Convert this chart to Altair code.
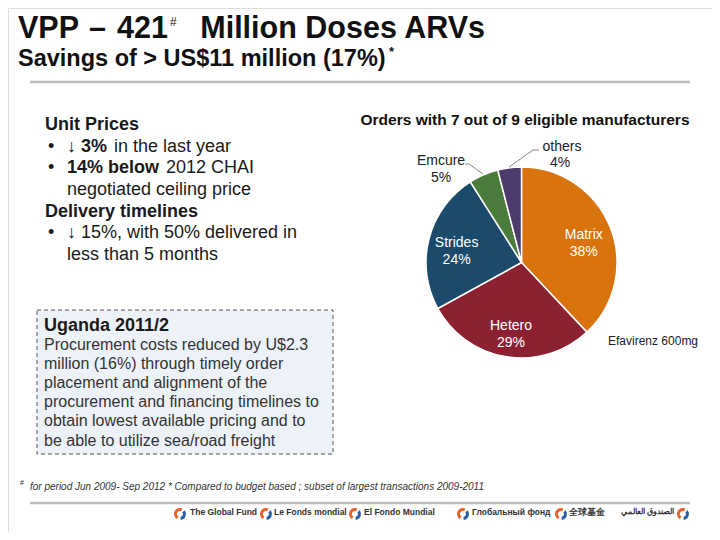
import altair as alt
import pandas as pd

# ---------------- data ----------------
manufacturers = ["Matrix", "Hetero", "Strides", "Emcure", "others"]
shares = [38, 29, 24, 5, 4]
colors = ["#D9730D", "#8C2231", "#1B4A6B", "#4A7C3B", "#4E3B6E"]
inside_label = [True, True, True, False, False]

title_parts = ["VPP", "\u2013", "421"]
title_rest = "Million Doses ARVs"
subtitle = "Savings of > US$11 million (17%)"
pie_title = "Orders with 7 out of 9 eligible manufacturers"
pie_note = "Efavirenz 600mg"
box_title = "Uganda 2011/2"
box_lines = [
    "Procurement costs reduced by U$2.3",
    "million (16%) through timely order",
    "placement and alignment of the",
    "procurement and financing timelines to",
    "obtain lowest available pricing and to",
    "be able to utilize sea/road freight",
]
footnote = "for period Jun 2009-  Sep 2012 * Compared to budget based ; subset of largest transactions 2009-2011"
logo_names = ["The Global Fund", "Le Fonds mondial", "El Fondo Mundial",
              "\u0413\u043b\u043e\u0431\u0430\u043b\u044c\u043d\u044b\u0439 \u0444\u043e\u043d\u0434",
              "\u5168\u7403\u57fa\u91d1",
              "\u0627\u0644\u0635\u0646\u062f\u0648\u0642 \u0627\u0644\u0639\u0627\u0644\u0645\u064a"]

FONT = "Liberation Sans"
OX, OY = 8, 8


def X(v):
    return v - OX


def Y(v):
    return v - OY


dummy = alt.Data(values=[{"a": 1}])


def txt(s, x, y, size, weight="normal", color="#1a1a1a", align="left",
        baseline="middle", style="normal", font=FONT):
    return alt.Chart(dummy).mark_text(
        text=s, fontSize=size, fontWeight=weight, color=color, align=align,
        baseline=baseline, fontStyle=style, font=font
    ).encode(x=alt.value(X(x)), y=alt.value(Y(y)))


def rule(x1, y1, x2, y2, color="#BFBFBF", width=1.0):
    return alt.Chart(dummy).mark_rule(color=color, strokeWidth=width).encode(
        x=alt.value(X(x1)), x2=alt.value(X(x2)), y=alt.value(Y(y1)), y2=alt.value(Y(y2)))


layers = []

# titles
for part, px in zip(title_parts, [18, 89, 117]):
    layers.append(txt(part, px, 38, 30.5, "bold", "#111", baseline="alphabetic"))
layers += [
    txt("#", 170, 22, 12, "normal", "#111"),
    txt(title_rest, 485, 38, 30.5, "bold", "#111", align="right", baseline="alphabetic"),
    txt(subtitle, 18, 66, 23.5, "bold", "#111", baseline="alphabetic"),
    txt("*", 389, 52, 13, "bold", "#111"),
    rule(30, 82, 690, 82, "#BDBDBD", 2.5),
]

# left bullet block
left = [
    ("Unit Prices", 45, 125, "bold"),
    ("\u2022", 48, 147, "normal"),
    ("\u2193 3%", 67, 147, "bold"),
    ("in the last year", 114, 147, "normal"),
    ("\u2022", 48, 168, "normal"),
    ("14% below", 67, 168, "bold"),
    ("2012 CHAI", 166, 168, "normal"),
    ("negotiated ceiling price", 67, 190, "normal"),
    ("Delivery timelines", 45, 212, "bold"),
    ("\u2022", 48, 233, "normal"),
    ("\u2193 15%,  with 50% delivered in", 67, 233, "normal"),
    ("less than 5 months", 67, 255, "normal"),
]
for s, x, y, w in left:
    layers.append(txt(s, x, y, 18, w, "#1a1a1a"))

# dashed box
box = alt.Chart(dummy).mark_rect(fill="#EDF2F9", stroke="#555555", strokeDash=[4, 3],
                                 strokeWidth=1).encode(
    x=alt.value(X(37)), x2=alt.value(X(333)), y=alt.value(Y(310)), y2=alt.value(Y(454)))
layers.append(box)
layers.append(txt(box_title, 44, 326, 18, "bold", "#1a1a1a"))
for i, line in enumerate(box_lines):
    layers.append(txt(line, 44, 345 + i * 19.1, 16, "normal", "#333333"))

# pie
pie_df = pd.DataFrame({
    "m": manufacturers,
    "share": shares,
    "order": list(range(len(manufacturers))),
    "label": [f"{m}\n{s}%" if ins else "" for m, s, ins in zip(manufacturers, shares, inside_label)],
})
cx, cy, R = 521.5, 262.5, 95.5
base = alt.Chart(pie_df).encode(
    theta=alt.Theta("share:Q", stack=True),
    order=alt.Order("order:Q"),
    x=alt.value(X(cx)), y=alt.value(Y(cy)),
)
arcs = base.mark_arc(outerRadius=R, stroke="white", strokeWidth=1.5).encode(
    color=alt.Color("m:N", scale=alt.Scale(domain=manufacturers, range=colors), legend=None))
inner = base.mark_text(radius=67, color="white", fontSize=14, font=FONT, dy=-3,
                       lineBreak="\n", lineHeight=17, baseline="middle").encode(text="label:N")
layers += [arcs, inner]

layers += [
    txt(pie_title, 525, 120, 15.5, "bold", "#111", align="center"),
    txt("Emcure", 441, 161, 14, "normal", "#222", align="center"),
    txt("5%", 441, 178, 14, "normal", "#222", align="center"),
    txt("others", 562, 147, 14, "normal", "#222", align="center"),
    txt("4%", 560, 163, 14, "normal", "#222", align="center"),
    txt(pie_note, 608, 341, 12, "normal", "#222"),
    rule(465, 164, 469, 164, "#888", 1),
    rule(469, 164, 483, 174, "#888", 1),
    rule(509, 167, 533, 150, "#888", 1),
    rule(533, 150, 539, 150, "#888", 1),
]

# footnote
layers += [
    txt("#", 20, 483, 7, "normal", "#333"),
    txt(footnote, 30, 487, 10, "normal", "#333", style="italic"),
    rule(30, 503, 690, 503, "#BDBDBD", 2.5),
]

# logos
icon_x = [180, 266, 355, 463, 561, 683]
text_x = [190, 274, 364, 472, 569, 674]
text_align = ["left", "left", "left", "left", "left", "right"]
text_size = [8.5, 8.5, 8.5, 8.5, 8.5, 8]
for ix, tx, al, fs, name in zip(icon_x, text_x, text_align, text_size, logo_names):
    layers.append(alt.Chart(dummy).mark_arc(color="#E8622C", radius=6, radius2=3,
                                            theta=3.7, theta2=6.68).encode(
        x=alt.value(X(ix)), y=alt.value(Y(514))))
    layers.append(alt.Chart(dummy).mark_arc(color="#2C5FA3", radius=6, radius2=3,
                                            theta=0.9, theta2=3.0).encode(
        x=alt.value(X(ix)), y=alt.value(Y(514))))
    layers.append(txt(name, tx, 512, fs, "bold", "#333", align=al))

chart = alt.layer(*layers).properties(
    width=704, height=524, padding=0, autosize=alt.AutoSizeParams(type="none")
).configure_view(stroke=None).configure(background="white")

chart.save("out.html", embed_options={"renderer": "svg", "actions": False})
